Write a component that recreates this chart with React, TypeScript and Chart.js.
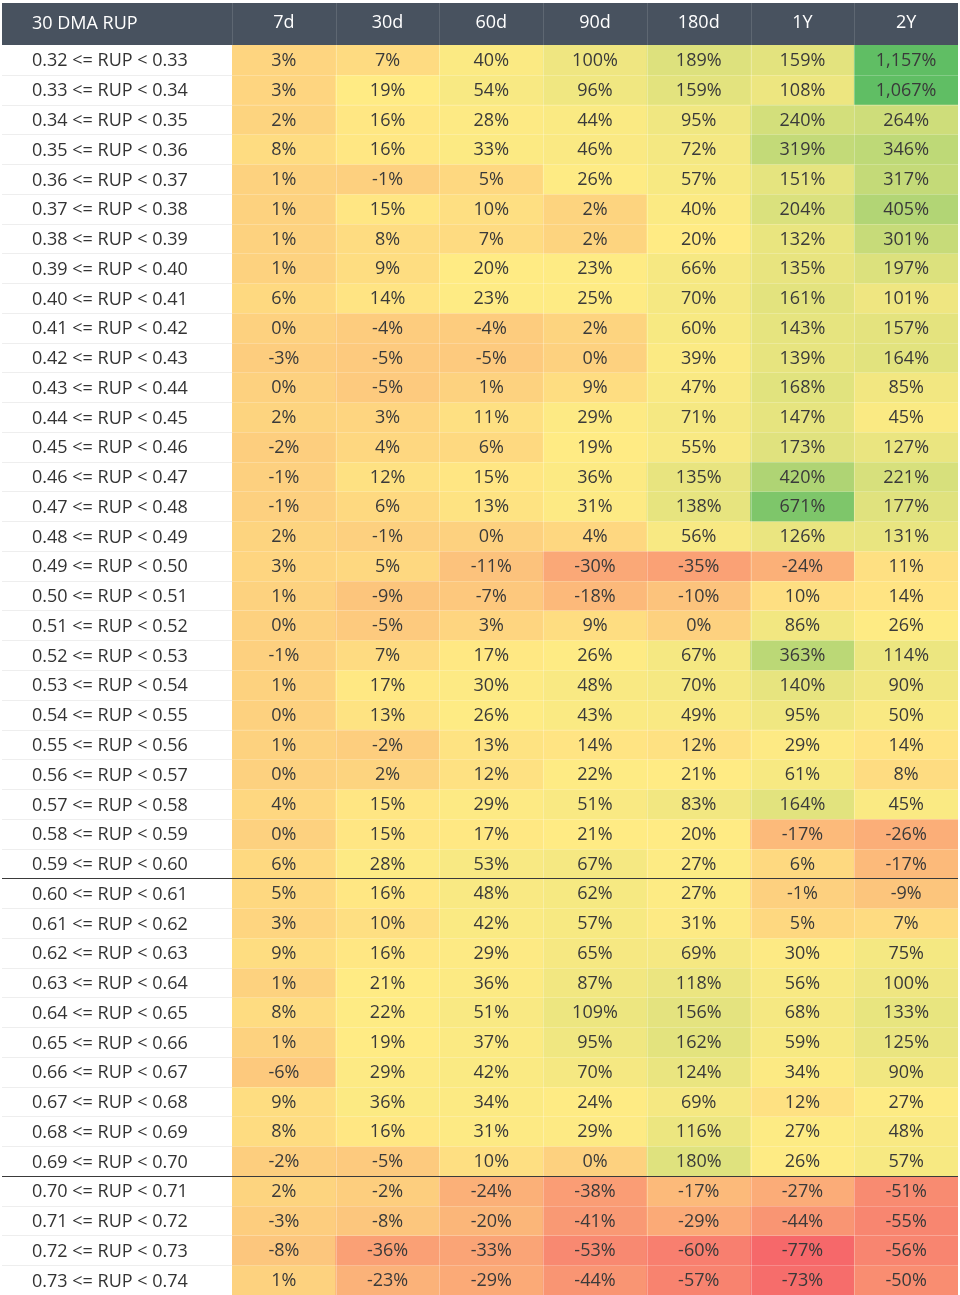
import React, { useEffect, useRef } from 'react';
import { Chart, registerables } from 'chart.js';
Chart.register(...registerables);

const headerTitle = '30 DMA RUP';
const columns = ['7d', '30d', '60d', '90d', '180d', '1Y', '2Y'];
const rowLabels = [
  '0.32 <= RUP < 0.33', '0.33 <= RUP < 0.34', '0.34 <= RUP < 0.35', '0.35 <= RUP < 0.36',
  '0.36 <= RUP < 0.37', '0.37 <= RUP < 0.38', '0.38 <= RUP < 0.39', '0.39 <= RUP < 0.40',
  '0.40 <= RUP < 0.41', '0.41 <= RUP < 0.42', '0.42 <= RUP < 0.43', '0.43 <= RUP < 0.44',
  '0.44 <= RUP < 0.45', '0.45 <= RUP < 0.46', '0.46 <= RUP < 0.47', '0.47 <= RUP < 0.48',
  '0.48 <= RUP < 0.49', '0.49 <= RUP < 0.50', '0.50 <= RUP < 0.51', '0.51 <= RUP < 0.52',
  '0.52 <= RUP < 0.53', '0.53 <= RUP < 0.54', '0.54 <= RUP < 0.55', '0.55 <= RUP < 0.56',
  '0.56 <= RUP < 0.57', '0.57 <= RUP < 0.58', '0.58 <= RUP < 0.59', '0.59 <= RUP < 0.60',
  '0.60 <= RUP < 0.61', '0.61 <= RUP < 0.62', '0.62 <= RUP < 0.63', '0.63 <= RUP < 0.64',
  '0.64 <= RUP < 0.65', '0.65 <= RUP < 0.66', '0.66 <= RUP < 0.67', '0.67 <= RUP < 0.68',
  '0.68 <= RUP < 0.69', '0.69 <= RUP < 0.70', '0.70 <= RUP < 0.71', '0.71 <= RUP < 0.72',
  '0.72 <= RUP < 0.73', '0.73 <= RUP < 0.74',
];

const d7 = [3, 3, 2, 8, 1, 1, 1, 1, 6, 0, -3, 0, 2, -2, -1, -1, 2, 3, 1, 0, -1, 1, 0, 1, 0, 4, 0, 6, 5, 3, 9, 1, 8, 1, -6, 9, 8, -2, 2, -3, -8, 1];
const d30 = [7, 19, 16, 16, -1, 15, 8, 9, 14, -4, -5, -5, 3, 4, 12, 6, -1, 5, -9, -5, 7, 17, 13, -2, 2, 15, 15, 28, 16, 10, 16, 21, 22, 19, 29, 36, 16, -5, -2, -8, -36, -23];
const d60 = [40, 54, 28, 33, 5, 10, 7, 20, 23, -4, -5, 1, 11, 6, 15, 13, 0, -11, -7, 3, 17, 30, 26, 13, 12, 29, 17, 53, 48, 42, 29, 36, 51, 37, 42, 34, 31, 10, -24, -20, -33, -29];
const d90 = [100, 96, 44, 46, 26, 2, 2, 23, 25, 2, 0, 9, 29, 19, 36, 31, 4, -30, -18, 9, 26, 48, 43, 14, 22, 51, 21, 67, 62, 57, 65, 87, 109, 95, 70, 24, 29, 0, -38, -41, -53, -44];
const d180 = [189, 159, 95, 72, 57, 40, 20, 66, 70, 60, 39, 47, 71, 55, 135, 138, 56, -35, -10, 0, 67, 70, 49, 12, 21, 83, 20, 27, 27, 31, 69, 118, 156, 162, 124, 69, 116, 180, -17, -29, -60, -57];
const y1 = [159, 108, 240, 319, 151, 204, 132, 135, 161, 143, 139, 168, 147, 173, 420, 671, 126, -24, 10, 86, 363, 140, 95, 29, 61, 164, -17, 6, -1, 5, 30, 56, 68, 59, 34, 12, 27, 26, -27, -44, -77, -73];
const y2 = [1157, 1067, 264, 346, 317, 405, 301, 197, 101, 157, 164, 85, 45, 127, 221, 177, 131, 11, 14, 26, 114, 90, 50, 14, 8, 45, -26, -17, -9, 7, 75, 100, 133, 125, 90, 27, 48, 57, -51, -55, -56, -50];

const series = [d7, d30, d60, d90, d180, y1, y2];

const RED = [246, 104, 106];
const YEL = [255, 235, 132];
const GRN = [96, 190, 100];
const GREEN_FULL = 820;

const allValues = series.flat();
const sorted = [...allValues].sort((a, b) => a - b);
const minV = sorted[0];
const midV = (sorted[Math.floor((sorted.length - 1) / 2)] + sorted[Math.ceil((sorted.length - 1) / 2)]) / 2;

function mix(a: number[], b: number[], t: number) {
  const c = a.map((v, i) => Math.round(v + (b[i] - v) * t));
  return `rgb(${c[0]},${c[1]},${c[2]})`;
}
function colorFor(v: number) {
  if (v <= midV) {
    const t = Math.max(0, Math.min(1, (v - minV) / (midV - minV)));
    return mix(RED, YEL, t);
  }
  const t = Math.max(0, Math.min(1, (v - midV) / (GREEN_FULL - midV)));
  return mix(YEL, GRN, t);
}

const FONT = "'Open Sans', 'Noto Sans', sans-serif";
const SIZE = 18;

const tablePlugin = {
  id: 'tableDeco',
  beforeDraw(chart: any) {
    const { ctx, scales } = chart;
    const xs = scales.x;
    ctx.save();
    ctx.fillStyle = '#ffffff';
    ctx.fillRect(0, 0, chart.width, chart.height);
    ctx.fillStyle = '#48525f';
    ctx.fillRect(2, xs.top, xs.right - 2, xs.bottom - xs.top);
    const step = xs.getPixelForValue(1) - xs.getPixelForValue(0);
    ctx.strokeStyle = 'rgba(255,255,255,0.12)';
    ctx.lineWidth = 1;
    for (let c = 0; c < columns.length; c++) {
      const x = Math.round(xs.getPixelForValue(c) - step / 2) + 0.5;
      ctx.beginPath();
      ctx.moveTo(x, xs.top);
      ctx.lineTo(x, xs.bottom);
      ctx.stroke();
    }
    ctx.fillStyle = '#ffffff';
    ctx.font = `${SIZE}px ${FONT}`;
    ctx.textAlign = 'left';
    ctx.textBaseline = 'middle';
    ctx.fillText(headerTitle, 32, (xs.top + xs.bottom) / 2);
    ctx.restore();
  },
  afterDatasetsDraw(chart: any) {
    const { ctx, scales, chartArea } = chart;
    const ys = scales.y;
    const xs = scales.x;
    ctx.save();
    ctx.lineWidth = 1;
    for (let r = 1; r < rowLabels.length; r++) {
      const y = Math.round(ys.getPixelForValue(r)) + 0.5;
      ctx.strokeStyle = '#eeeeee';
      ctx.beginPath();
      ctx.moveTo(2, y);
      ctx.lineTo(chartArea.left, y);
      ctx.stroke();
      ctx.strokeStyle = 'rgba(255,255,255,0.22)';
      ctx.beginPath();
      ctx.moveTo(chartArea.left, y);
      ctx.lineTo(chartArea.right, y);
      ctx.stroke();
    }
    const step = xs.getPixelForValue(1) - xs.getPixelForValue(0);
    ctx.strokeStyle = 'rgba(255,255,255,0.28)';
    for (let c = 1; c < columns.length; c++) {
      const x = Math.round(xs.getPixelForValue(c) - step / 2) + 0.5;
      ctx.beginPath();
      ctx.moveTo(x, chartArea.top);
      ctx.lineTo(x, chartArea.bottom);
      ctx.stroke();
    }
    ctx.strokeStyle = '#3a3a3a';
    [28, 38].forEach((r) => {
      const y = Math.round(ys.getPixelForValue(r)) + 0.5;
      ctx.beginPath();
      ctx.moveTo(2, y);
      ctx.lineTo(chartArea.right, y);
      ctx.stroke();
    });
    ctx.fillStyle = '#3a3a3a';
    ctx.font = `${SIZE}px ${FONT}`;
    ctx.textAlign = 'center';
    ctx.textBaseline = 'middle';
    chart.data.datasets.forEach((ds: any, r: number) => {
      const meta = chart.getDatasetMeta(r);
      meta.data.forEach((el: any, c: number) => {
        const v = series[c][r];
        const text = v.toLocaleString('en-US') + '%';
        ctx.fillText(text, el.x, (el.y + el.base) / 2 + 1);
      });
    });
    ctx.restore();
  },
};

export default function App() {
  const ref = useRef<HTMLCanvasElement | null>(null);
  useEffect(() => {
    document.body.style.margin = '0';
    const canvas = ref.current;
    if (!canvas) return;
    const datasets = rowLabels.map((label, r) => ({
      label,
      data: columns.map(() => [r, r + 1]),
      backgroundColor: columns.map((_, c) => colorFor(series[c][r])),
      borderWidth: 0,
      barPercentage: 1,
      categoryPercentage: 1,
      grouped: false,
    }));
    const chart = new Chart(canvas, {
      type: 'bar',
      data: { labels: columns, datasets: datasets as any },
      plugins: [tablePlugin],
      options: {
        responsive: false,
        animation: false,
        layout: { padding: { left: 32, right: 2, top: 3, bottom: 0 } },
        plugins: { legend: { display: false }, tooltip: { enabled: false } },
        scales: {
          x: {
            type: 'category',
            position: 'top',
            offset: true,
            grid: { display: false, drawTicks: false },
            border: { display: false },
            ticks: { color: '#ffffff', padding: 11, maxRotation: 0, font: { family: FONT, size: SIZE } },
            afterFit: (s: any) => { s.height = 42; s.paddingLeft = 0; s.paddingRight = 0; },
          },
          y: {
            type: 'linear',
            min: 0,
            max: rowLabels.length,
            reverse: true,
            grid: { display: false },
            border: { display: false },
            afterBuildTicks: (s: any) => { s.ticks = rowLabels.map((_, i) => ({ value: i + 0.55 })); },
            afterFit: (s: any) => { s.width = 200; s.paddingTop = 0; s.paddingBottom = 0; },
            ticks: {
              autoSkip: false,
              crossAlign: 'far',
              padding: 0,
              color: '#333333',
              font: { family: FONT, size: SIZE },
              callback: (v: any) => rowLabels[Math.floor(Number(v))],
            },
          },
        },
      } as any,
    });
    return () => chart.destroy();
  }, []);
  return (
    <div style={{ width: 960, height: 1295 }}>
      <canvas ref={ref} width={960} height={1295} style={{ display: 'block' }} />
    </div>
  );
}
